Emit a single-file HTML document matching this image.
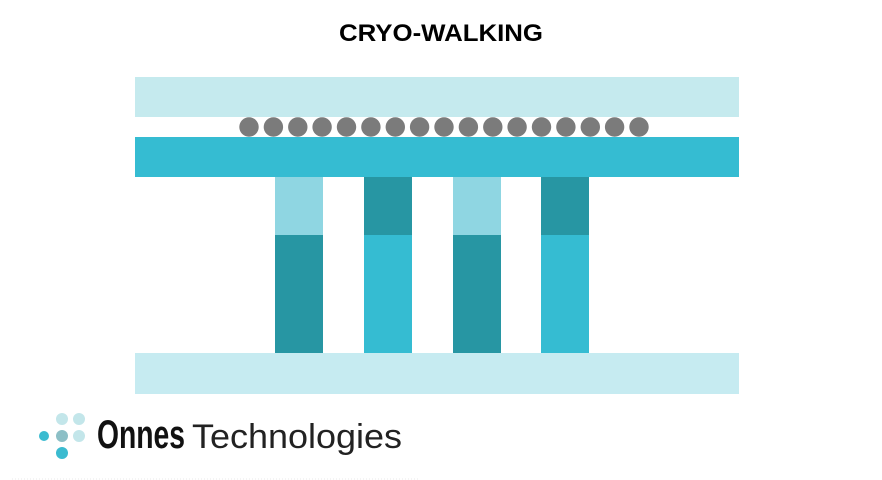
<!DOCTYPE html>
<html><head><meta charset="utf-8"><style>
html,body{margin:0;padding:0;background:#fff;width:882px;height:480px;overflow:hidden}
</style></head><body>
<svg width="882" height="480" xmlns="http://www.w3.org/2000/svg">
<text x="441" y="41" text-anchor="middle" font-family="Liberation Sans, sans-serif" font-weight="bold" font-size="24" textLength="204" lengthAdjust="spacingAndGlyphs" fill="#000">CRYO-WALKING</text>
<rect x="135" y="77" width="604" height="40" fill="#c5eaee"/>
<g fill="#7b7b7b">
<circle cx="249" cy="127" r="9.7"/><circle cx="273.4" cy="127" r="9.7"/><circle cx="297.8" cy="127" r="9.7"/><circle cx="322.1" cy="127" r="9.7"/><circle cx="346.5" cy="127" r="9.7"/><circle cx="370.9" cy="127" r="9.7"/><circle cx="395.3" cy="127" r="9.7"/><circle cx="419.6" cy="127" r="9.7"/><circle cx="444" cy="127" r="9.7"/><circle cx="468.4" cy="127" r="9.7"/><circle cx="492.8" cy="127" r="9.7"/><circle cx="517.1" cy="127" r="9.7"/><circle cx="541.5" cy="127" r="9.7"/><circle cx="565.9" cy="127" r="9.7"/><circle cx="590.3" cy="127" r="9.7"/><circle cx="614.6" cy="127" r="9.7"/><circle cx="639" cy="127" r="9.7"/>
</g>
<rect x="135" y="137" width="604" height="40" fill="#35bcd2"/>
<rect x="275" y="177" width="48" height="58" fill="#8fd6e2"/>
<rect x="275" y="235" width="48" height="118" fill="#2796a3"/>
<rect x="364" y="177" width="48" height="58" fill="#2796a3"/>
<rect x="364" y="235" width="48" height="118" fill="#35bcd2"/>
<rect x="453" y="177" width="48" height="58" fill="#8fd6e2"/>
<rect x="453" y="235" width="48" height="118" fill="#2796a3"/>
<rect x="541" y="177" width="48" height="58" fill="#2796a3"/>
<rect x="541" y="235" width="48" height="118" fill="#35bcd2"/>
<rect x="135" y="353" width="604" height="41" fill="#c6ebf1"/>
<circle cx="44" cy="436" r="5" fill="#3bbbd0"/>
<circle cx="62" cy="436" r="6" fill="#8cbfc6"/>
<circle cx="79" cy="436" r="6" fill="#c3e6ea"/>
<circle cx="62" cy="419" r="6" fill="#c3e6ea"/>
<circle cx="79" cy="419" r="6" fill="#c3e6ea"/>
<circle cx="62" cy="453" r="6" fill="#3bbbd0"/>
<text x="97" y="448" font-family="Liberation Sans, sans-serif" font-weight="bold" font-size="40" textLength="88" lengthAdjust="spacingAndGlyphs" fill="#111">Onnes</text>
<text x="192" y="448" font-family="Liberation Sans, sans-serif" font-size="34" textLength="210" lengthAdjust="spacingAndGlyphs" fill="#222">Technologies</text>
<line x1="12" y1="479" x2="420" y2="479" stroke="#e8e8e8" stroke-dasharray="1,2"/>
</svg>
</body></html>
